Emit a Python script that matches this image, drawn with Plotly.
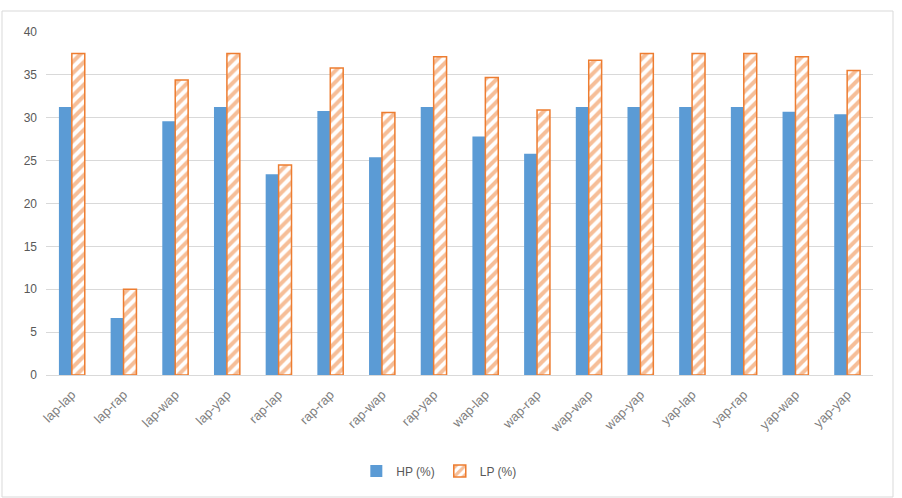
import plotly.graph_objects as go

categories = ["lap-lap", "lap-rap", "lap-wap", "lap-yap", "rap-lap", "rap-rap", "rap-wap", "rap-yap",
              "wap-lap", "wap-rap", "wap-wap", "wap-yap", "yap-lap", "yap-rap", "yap-wap", "yap-yap"]
hp = [31.25, 6.65, 29.6, 31.25, 23.4, 30.8, 25.4, 31.25, 27.8, 25.8, 31.25, 31.25, 31.25, 31.25, 30.7, 30.4]
lp = [37.5, 10.0, 34.4, 37.5, 24.5, 35.8, 30.6, 37.1, 34.7, 30.9, 36.7, 37.5, 37.5, 37.5, 37.1, 35.5]
y_ticks = [0, 5, 10, 15, 20, 25, 30, 35, 40]

blue = "#5B9BD5"
orange = "#ED7D31"
gray = "#595959"
lgray = "#7F7F7F"

fig = go.Figure()
fig.add_trace(go.Bar(x=categories, y=hp, name="HP (%)", marker=dict(color=blue, line=dict(width=0))))
fig.add_trace(go.Bar(x=categories, y=lp, name="LP (%)",
                     marker=dict(color="white", line=dict(color=orange, width=1.5),
                                 pattern=dict(shape="/", fgcolor=orange, bgcolor="white", size=8, solidity=0.5))))

W, H = 902, 498
l, r, t, b = 46, 29, 32, 123
pw, ph = W - l - r, H - t - b

fig.update_layout(
    width=W, height=H,
    margin=dict(l=l, r=r, t=t, b=b),
    paper_bgcolor="white", plot_bgcolor="white",
    barmode="group", bargap=0.5, bargroupgap=0,
    font=dict(family="Liberation Sans, Arial, sans-serif", size=12, color=gray),
    showlegend=True,
    legend=dict(orientation="h", x=0.475, xanchor="center", y=-0.28, yanchor="middle",
                font=dict(size=12, color=gray), itemwidth=30, traceorder="normal"),
    xaxis=dict(tickangle=-45, showgrid=False, showline=True, linecolor="#D9D9D9", linewidth=1,
               ticks="", ticklabelstandoff=6, tickfont=dict(size=13, color=lgray)),
    yaxis=dict(range=[0, 40], tickvals=y_ticks, showgrid=True, gridcolor="#D9D9D9", gridwidth=1,
               zeroline=False, showline=False, ticks="", ticklabelstandoff=8,
               tickfont=dict(size=12, color=gray)),
    shapes=[dict(type="rect", xref="paper", yref="paper",
                 x0=(2 - l) / pw, x1=(893 - l) / pw,
                 y0=(H - b - 497) / ph, y1=(H - b - 11) / ph,
                 line=dict(color="#D9D9D9", width=1), fillcolor="rgba(0,0,0,0)", layer="below")],
)

fig.write_html("out.html")
